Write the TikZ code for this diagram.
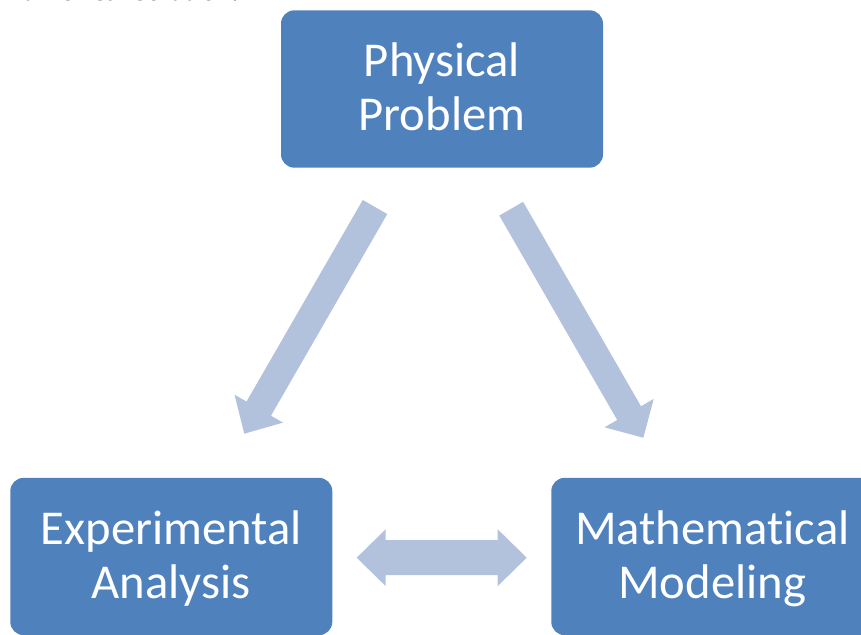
\documentclass[tikz,border=0pt]{standalone}
\usepackage{fontspec}
\setmainfont{Carlito}[RawFeature={-liga}]
\newfontfamily\bodyserif{Liberation Serif}
\usetikzlibrary{calc}
\definecolor{boxblue}{RGB}{79,129,189}
\definecolor{arrowblue}{RGB}{179,194,220}
\newcommand\blockarrow[5]{%
  \coordinate (ba-h) at ($(#2)!#5!(#1)$);
  \fill[arrowblue] ($(#1)!#3!90:(#2)$) -- ($(ba-h)!#3!-90:(#1)$) -- ($(ba-h)!#4!-90:(#1)$) -- (#2)
    -- ($(ba-h)!#4!90:(#1)$) -- ($(ba-h)!#3!90:(#1)$) -- ($(#1)!#3!-90:(#2)$) -- cycle;}
\newcommand\dblblockarrow[5]{%
  \coordinate (ba-h1) at ($(#1)!#5!(#2)$);
  \coordinate (ba-h2) at ($(#2)!#5!(#1)$);
  \fill[arrowblue] (#1) -- ($(ba-h1)!#4!90:(#2)$) -- ($(ba-h1)!#3!90:(#2)$) -- ($(ba-h2)!#3!-90:(#1)$)
    -- ($(ba-h2)!#4!-90:(#1)$) -- (#2) -- ($(ba-h2)!#4!90:(#1)$) -- ($(ba-h2)!#3!90:(#1)$)
    -- ($(ba-h1)!#3!-90:(#2)$) -- ($(ba-h1)!#4!-90:(#2)$) -- cycle;}
\tikzset{
  stagebox/.style={draw=none, fill=boxblue, rounded corners=10pt, text=white,
    minimum width=241.5pt, minimum height=118pt, inner sep=0pt, align=center,
    font=\fontsize{36.5pt}{40.5pt}\selectfont, text height=72pt, text depth=9pt},
  topnote/.style={inner sep=0pt, anchor=base west, font=\bodyserif\fontsize{22.5pt}{24pt}\selectfont}
}
\begin{document}
\begin{tikzpicture}[x=0.75pt, y=-0.75pt]
\useasboundingbox (0,0) rectangle (861,635);
\node[topnote] (note) at (7,1) {numerical solution.};
\node[stagebox] (phys) at (442,89) {Physical\\Problem};
\node[stagebox] (expt) at (171.3,556.5) {Experimental\\Analysis};
\node[stagebox] (math) at (712.3,556.5) {Mathematical\\Modeling};
\coordinate (l1) at (375,207);
\coordinate (l2) at (244.3,433.7);
\coordinate (r1) at (511.2,208.7);
\coordinate (r2) at (643.3,437.7);
\coordinate (d1) at (356.7,557.7);
\coordinate (d2) at (526.7,557.7);
\blockarrow{l1}{l2}{10.6pt}{21pt}{21.7pt}
\blockarrow{r1}{r2}{10.3pt}{21.3pt}{21.3pt}
\dblblockarrow{d1}{d2}{13.1pt}{21.3pt}{21.75pt}
\end{tikzpicture}
\end{document}
